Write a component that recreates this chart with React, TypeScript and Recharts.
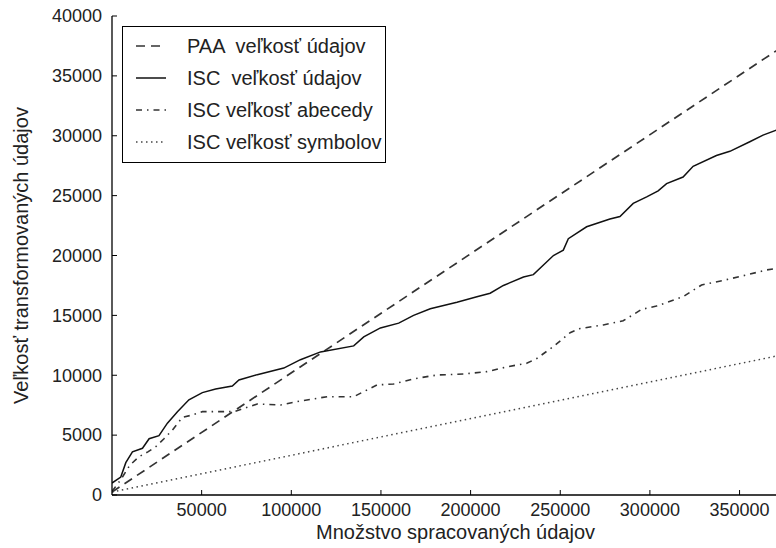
import React from "react";
import { LineChart, Line, XAxis, YAxis, Legend } from "recharts";

// PAA - straight line
const paaX = [0, 372000];
const paaY = [250, 37250];

// ISC data size (solid)
const iscDataX = [
    0, 4900, 7700, 11400, 17000, 20700, 26200, 30900, 36500, 42900, 50400, 57800, 67100, 70800,
    81000, 95800, 105100, 116300, 134800, 140400, 149700, 159900, 168200, 177500, 192400, 203500,
    210900, 218300, 229500, 235000, 246200, 251700, 254500, 264700, 277700, 283300, 290700, 298200,
    304600, 309300, 318500, 324100, 337100, 344600, 355700, 363100, 372000,
];
const iscDataY = [
    1000, 1500, 2700, 3600, 3900, 4700, 4950, 6000, 6950, 7950, 8550, 8850, 9100, 9600,
    10050, 10600, 11300, 11950, 12450, 13200, 13950, 14350, 15000, 15550, 16100, 16550,
    16850, 17500, 18200, 18400, 20000, 20450, 21400, 22400, 23050, 23250, 24350, 24900,
    25400, 26000, 26550, 27450, 28350, 28700, 29500, 30050, 30550,
];

// ISC alphabet size (dash-dot)
const iscAlphaX = [
    0, 5000, 10000, 15100, 20000, 24400, 29000, 33700, 39300, 44000, 50400, 59600, 68000, 75000,
    81000, 94000, 105100, 120000, 134800, 147800, 157100, 168200, 181200, 196000, 209100, 220200,
    231300, 236900, 246200, 255500, 261000, 274000, 285100, 295400, 303700, 318500, 328800, 341800,
    353800, 365000, 372000,
];
const iscAlphaY = [
    300, 1300, 2500, 3200, 3600, 4030, 4700, 5430, 6490, 6650, 6960, 6960, 6960, 7300,
    7600, 7520, 7850, 8210, 8210, 9190, 9270, 9700, 10020, 10100, 10300, 10700,
    11000, 11400, 12400, 13550, 13900, 14200, 14550, 15500, 15780, 16560, 17540, 17950,
    18370, 18790, 18950,
];

// ISC symbol size (dotted)
const iscSymX = [0, 372000];
const iscSymY = [250, 11650];

const xTicks = [50000, 100000, 150000, 200000, 250000, 300000, 350000];
const yTicks = [0, 5000, 10000, 15000, 20000, 25000, 30000, 35000, 40000];

const toPoints = (xs: number[], ys: number[]) => xs.map((x, i) => ({ x, y: ys[i] }));

const FONT = "'Liberation Sans', Arial, sans-serif";
const TEXT = "#222";

const series = [
    { key: "paa", name: "PAA  veľkosť údajov", data: toPoints(paaX, paaY), dash: "9 6", color: "#333", width: 1.7 },
    { key: "iscData", name: "ISC  veľkosť údajov", data: toPoints(iscDataX, iscDataY), dash: undefined, color: "#111", width: 1.5 },
    { key: "iscAlpha", name: "ISC veľkosť abecedy", data: toPoints(iscAlphaX, iscAlphaY), dash: "6 5 1.5 5", color: "#333", width: 1.6 },
    { key: "iscSym", name: "ISC veľkosť symbolov", data: toPoints(iscSymX, iscSymY), dash: "1.5 3.5", color: "#444", width: 1.5 },
];

const LeftTick = ({ x, y, payload }: any) => (
    <g>
        <line x1={x + 10} x2={x + 15} y1={y} y2={y} stroke="#000" />
        <text x={x} y={y} dy="0.35em" textAnchor="end" fontSize={18} fontFamily={FONT} fill={TEXT}>
            {payload.value}
        </text>
    </g>
);

const BottomTick = ({ x, y, payload }: any) => (
    <g>
        <line x1={x} x2={x} y1={y - 7} y2={y - 12} stroke="#000" />
        <text x={x} y={y} dy="0.75em" textAnchor="middle" fontSize={18} fontFamily={FONT} fill={TEXT}>
            {payload.value}
        </text>
    </g>
);

const TopTick = ({ x, y }: any) => <line x1={x} x2={x} y1={y} y2={y + 5} stroke="#000" />;
const RightTick = ({ x, y }: any) => <line x1={x - 5} x2={x} y1={y} y2={y} stroke="#000" />;

const CustomLegend = () => (
    <div
        style={{
            width: 264,
            height: 137,
            boxSizing: "border-box",
            border: "1.3px solid #000",
            background: "#fff",
            paddingTop: 3,
            fontFamily: FONT,
            fontSize: 20,
            color: TEXT,
        }}
    >
        {series.map((s) => (
            <div key={s.key} style={{ display: "flex", alignItems: "center", height: 32 }}>
                <svg width={30} height={4} style={{ marginLeft: 13 }}>
                    <line x1={0} x2={30} y1={2} y2={2} stroke={s.color} strokeWidth={s.width} strokeDasharray={s.dash} />
                </svg>
                <span style={{ marginLeft: 21, whiteSpace: "pre" }}>{s.name}</span>
            </div>
        ))}
    </div>
);

const App = () => {
    return (
        <div style={{ position: "absolute", left: 0, top: 0, width: 776, height: 548, overflow: "hidden", background: "#fff" }}>
            <LineChart width={780} height={548} margin={{ top: 16, right: 1, bottom: 0, left: 0 }}>
                <XAxis
                    dataKey="x"
                    type="number"
                    domain={[0, 372000]}
                    allowDataOverflow
                    ticks={xTicks}
                    height={53}
                    tickSize={0}
                    tickMargin={7}
                    tick={<BottomTick />}
                    axisLine={{ stroke: "#000", strokeWidth: 1.3 }}
                    label={{
                        value: "Množstvo spracovaných údajov",
                        position: "insideBottom",
                        offset: 9,
                        dx: 10,
                        style: { fontSize: 20, fontFamily: FONT, fill: TEXT },
                    }}
                />
                <XAxis
                    xAxisId="top"
                    orientation="top"
                    type="number"
                    domain={[0, 372000]}
                    allowDataOverflow
                    ticks={xTicks}
                    height={0}
                    tickSize={0}
                    tickMargin={0}
                    tick={<TopTick />}
                    axisLine={{ stroke: "#000", strokeWidth: 1.3 }}
                />
                <YAxis
                    dataKey="y"
                    type="number"
                    domain={[0, 40000]}
                    allowDataOverflow
                    ticks={yTicks}
                    width={112}
                    tickSize={0}
                    tickMargin={10}
                    tick={<LeftTick />}
                    axisLine={{ stroke: "#000", strokeWidth: 1.3 }}
                    label={{
                        value: "Veľkosť transformovaných údajov",
                        angle: -90,
                        position: "insideLeft",
                        offset: 21,
                        style: { textAnchor: "middle", fontSize: 20, fontFamily: FONT, fill: TEXT },
                    }}
                />
                <YAxis
                    yAxisId="right"
                    orientation="right"
                    type="number"
                    domain={[0, 40000]}
                    allowDataOverflow
                    ticks={yTicks}
                    width={0}
                    tickSize={0}
                    tickMargin={0}
                    tick={<RightTick />}
                    axisLine={{ stroke: "#000", strokeWidth: 1.3 }}
                />
                <Legend
                    layout="vertical"
                    align="center"
                    verticalAlign="middle"
                    content={<CustomLegend />}
                    wrapperStyle={{ top: 26, left: 122, width: 264, height: 137 }}
                />
                {series.map((s) => (
                    <Line
                        key={s.key}
                        data={s.data}
                        dataKey="y"
                        name={s.name}
                        type="linear"
                        stroke={s.color}
                        strokeWidth={s.width}
                        strokeDasharray={s.dash}
                        dot={false}
                        activeDot={false}
                        isAnimationActive={false}
                    />
                ))}
            </LineChart>
        </div>
    );
};

export default App;
